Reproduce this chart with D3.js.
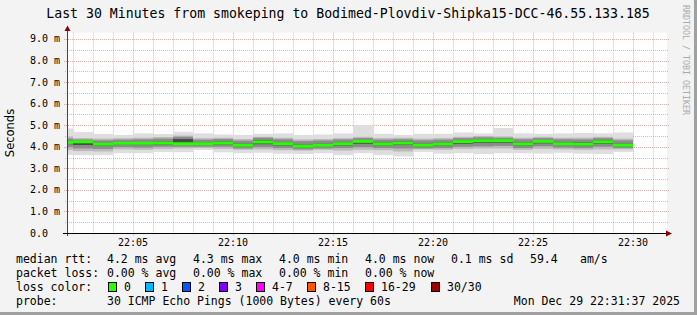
<!DOCTYPE html>
<html><head><meta charset="utf-8">
<script src="https://cdn.jsdelivr.net/npm/d3@7"></script>
<style>html,body{margin:0;padding:0;background:#f3f3f3;}svg{display:block;}</style>
</head><body>
<svg id="c" width="697" height="315"></svg>
<script>
// ---- data (values in ms) ----
const endMinutes = ["22:02","22:03","22:04","22:05","22:06","22:07","22:08","22:09","22:10","22:11",
  "22:12","22:13","22:14","22:15","22:16","22:17","22:18","22:19","22:20","22:21",
  "22:22","22:23","22:24","22:25","22:26","22:27","22:28","22:29","22:30"];
const median = [4.20,4.23,4.12,4.16,4.16,4.17,4.14,4.14,4.17,4.07,4.22,4.14,4.03,4.07,4.14,4.25,4.13,4.17,4.07,4.13,4.24,4.28,4.28,4.13,4.25,4.14,4.12,4.23,4.07];
const pMin   = [3.62,3.62,3.62,3.70,3.70,3.76,3.75,3.85,3.74,3.70,3.72,3.68,3.66,3.70,3.62,3.70,3.62,3.55,3.76,3.68,3.70,3.66,3.70,3.70,3.68,3.72,3.68,3.66,3.76];
const p15    = [3.85,3.80,3.78,3.88,3.86,3.90,3.92,3.94,3.90,3.86,3.88,3.84,3.82,3.86,3.82,3.86,3.84,3.78,3.88,3.86,3.90,3.92,3.92,3.86,3.90,3.88,3.86,3.88,3.88];
const p25    = [3.98,3.92,3.90,3.98,3.96,4.00,4.00,4.00,4.00,3.92,3.98,3.94,3.88,3.92,3.94,3.98,3.94,3.92,3.92,3.94,4.00,4.02,4.04,3.94,4.02,3.96,3.94,4.00,3.94];
const p35    = [4.12,4.08,4.04,4.09,4.08,4.10,4.10,4.08,4.10,4.01,4.12,4.06,3.98,4.02,4.06,4.14,4.06,4.08,4.00,4.06,4.14,4.18,4.18,4.06,4.16,4.08,4.05,4.14,4.01];
const p65    = [4.26,4.26,4.18,4.22,4.22,4.24,4.36,4.20,4.24,4.14,4.30,4.20,4.10,4.14,4.22,4.30,4.20,4.24,4.14,4.20,4.30,4.34,4.32,4.20,4.30,4.22,4.20,4.30,4.14];
const p75    = [4.38,4.34,4.30,4.33,4.35,4.38,4.46,4.33,4.36,4.28,4.42,4.35,4.26,4.29,4.34,4.40,4.33,4.35,4.30,4.33,4.40,4.44,4.42,4.35,4.40,4.35,4.34,4.40,4.30];
const p85    = [4.48,4.40,4.38,4.40,4.42,4.45,4.52,4.40,4.42,4.36,4.46,4.42,4.34,4.36,4.40,4.46,4.40,4.42,4.38,4.40,4.46,4.50,4.48,4.42,4.46,4.42,4.42,4.46,4.38];
const pMax   = [4.85,4.68,4.59,4.55,4.62,4.59,4.68,4.62,4.57,4.55,4.60,4.62,4.55,4.57,4.62,5.00,4.60,4.55,4.60,4.60,4.66,4.62,4.87,4.62,4.60,4.62,4.64,4.62,4.66];
const yTicks = [0,1,2,3,4,5,6,7,8,9];
const xTickLabels = ["22:05","22:10","22:15","22:20","22:25","22:30"];
const lossLabels = ["0","1","2","3","4-7","8-15","16-29","30/30"];
const lossColors = ["#26ff00","#00b8ff","#0059ff","#7e00ff","#ff00ff","#ff5500","#ff0000","#a10000"];
const title = "Last 30 Minutes from smokeping to Bodimed-Plovdiv-Shipka15-DCC-46.55.133.185";
const statsRtt = ["4.2 ms avg","4.3 ms max","4.0 ms min","4.0 ms now","0.1 ms sd","59.4","am/s"];
const statsLoss = ["0.00 % avg","0.00 % max","0.00 % min","0.00 % now"];
const probeText = "30 ICMP Echo Pings (1000 Bytes) every 60s";
const stamp = "Mon Dec 29 22:31:37 2025";

// ---- helpers ----
const toDate = s => { const [h,m] = s.split(":").map(Number); return new Date(Date.UTC(2025,11,29,h,m,0)); };
const svg = d3.select("#c");
const mono = "'DejaVu Sans Mono', monospace";
const L = 67, R = 667, T = 32.7, B = 233;
const x = d3.scaleUtc().domain([new Date(Date.UTC(2025,11,29,22,1,42)), new Date(Date.UTC(2025,11,29,22,31,42))]).range([L, R]);
const y = d3.scaleLinear().domain([0, 9.29]).range([B, T]);

// background + frame
svg.append("rect").attr("width",697).attr("height",315).attr("fill","#f3f3f3");
svg.append("rect").attr("x",694).attr("y",0).attr("width",3).attr("height",315).attr("fill","#a0a0a0");
svg.append("rect").attr("x",0).attr("y",312).attr("width",697).attr("height",3).attr("fill","#a0a0a0");
svg.append("rect").attr("x",L).attr("y",T).attr("width",R-L).attr("height",B-T).attr("fill","#ffffff");

// grid
const grid = svg.append("g");
const minorY = d3.range(0, 9.3, 0.5).filter(v => Math.abs(v - Math.round(v)) > 0.01);
grid.selectAll(".hm").data(minorY).join("line")
  .attr("x1",L-2).attr("x2",R+2).attr("y1",d=>Math.round(y(d))+0.5).attr("y2",d=>Math.round(y(d))+0.5)
  .attr("stroke","rgba(150,150,150,0.55)").attr("stroke-dasharray","1,1");
const minuteTicks = x.ticks(d3.utcMinute.every(1));
grid.selectAll(".vm").data(minuteTicks.filter(d=>d.getUTCMinutes()%5!==0)).join("line")
  .attr("y1",T).attr("y2",B+2).attr("x1",d=>Math.round(x(d))+0.5).attr("x2",d=>Math.round(x(d))+0.5)
  .attr("stroke","rgba(150,150,150,0.55)").attr("stroke-dasharray","1,1");
grid.selectAll(".hM").data(yTicks.filter(v=>v>0)).join("line")
  .attr("x1",L-3).attr("x2",R+2).attr("y1",d=>Math.round(y(d))+0.5).attr("y2",d=>Math.round(y(d))+0.5)
  .attr("stroke","rgba(220,90,90,0.5)").attr("stroke-dasharray","1,1");
const majorX = xTickLabels.map(toDate);
grid.selectAll(".vM").data(majorX).join("line")
  .attr("y1",T).attr("y2",B+3).attr("x1",d=>Math.round(x(d))+0.5).attr("x2",d=>Math.round(x(d))+0.5)
  .attr("stroke","rgba(220,90,90,0.5)").attr("stroke-dasharray","1,1");

// smoke + median
svg.append("clipPath").attr("id","pc").append("rect").attr("x",L).attr("y",T).attr("width",R-L).attr("height",B-T);
const plot = svg.append("g").attr("clip-path","url(#pc)");
const bars = endMinutes.map((m,i)=>({end:toDate(m), i}));
const bx0 = d => Math.round(x(new Date(d.end.getTime()-60000)));
const bx1 = d => Math.round(x(d.end));
const layers = [[pMin,pMax,"#dedede"],[p15,p85,"#bababa"],[p25,p75,"#8c8c8c"],[p35,p65,"#4a4a4a"]];
layers.forEach(([lo,hi,col])=>{
  plot.append("g").selectAll("rect").data(bars).join("rect")
    .attr("x",bx0).attr("width",d=>bx1(d)-bx0(d))
    .attr("y",d=>y(hi[d.i])).attr("height",d=>y(lo[d.i])-y(hi[d.i]))
    .attr("fill",col);
});
plot.append("g").selectAll("rect").data(bars).join("rect")
  .attr("x",bx0).attr("width",d=>bx1(d)-bx0(d))
  .attr("y",d=>y(median[d.i])-1.5).attr("height",3).attr("fill",lossColors[0]);

// axes
const axisColor = "#444";
svg.append("line").attr("x1",L+0.5).attr("x2",L+0.5).attr("y1",B+3).attr("y2",29).attr("stroke",axisColor);
svg.append("line").attr("x1",L-4).attr("x2",668).attr("y1",B+0.5).attr("y2",B+0.5).attr("stroke","#000");
svg.append("path").attr("d",`M${L-2.5},31 L${L+0.5},25.5 L${L+3.5},31 Z`).attr("fill","#8b0000");
svg.append("path").attr("d",`M666,${B-2.5} L672,${B+0.5} L666,${B+3.5} Z`).attr("fill","#8b0000");

// y tick labels
svg.append("g").selectAll("text").data(yTicks).join("text")
  .attr("x",30).attr("y",d=>y(d)+3.5)
  .attr("font-family",mono).attr("font-size","10px").attr("fill","#000")
  .text(d=> d===0 ? "0.0" : d3.format(".1f")(d)+" m");
// x tick labels
svg.append("g").selectAll("text").data(majorX).join("text")
  .attr("x",d=>x(d)).attr("y",246).attr("text-anchor","middle")
  .attr("font-family",mono).attr("font-size","10px").attr("fill","#000")
  .text(d=>d3.utcFormat("%H:%M")(d));

// title & labels
svg.append("text").attr("x",348).attr("y",18).attr("text-anchor","middle")
  .attr("font-family",mono).attr("font-size","13.2px").attr("fill","#000").text(title);
svg.append("text").attr("transform","translate(14,133) rotate(-90)").attr("text-anchor","middle")
  .attr("font-family","'DejaVu Sans', sans-serif").attr("font-size","11.5px").attr("fill","#000").text("Seconds");
svg.append("text").attr("transform","translate(683,5) rotate(90)")
  .attr("font-family",mono).attr("font-size","8.3px").attr("fill","#aaaaaa").text("RRDTOOL / TOBI OETIKER");

// legend
const lf = "11.5px";
const lt = (tx,xx,yy,anchor) => svg.append("text").attr("x",xx).attr("y",yy).attr("text-anchor",anchor||"start")
  .attr("font-family",mono).attr("font-size",lf).attr("fill","#000").attr("xml:space","preserve").text(tx);
lt("median rtt:",16,263);
[107,193,279,365,451,530,580].forEach((xx,k)=>lt(statsRtt[k],xx,263));
lt("packet loss:",16,277);
[107,193,279,365].forEach((xx,k)=>lt(statsLoss[k],xx,277));
lt("loss color:",16,291);
const boxX = [108,145,182,219,256,307,365,431];
lossLabels.forEach((lab,k)=>{
  svg.append("rect").attr("x",boxX[k]+0.5).attr("y",282.5).attr("width",8).attr("height",9)
    .attr("fill",lossColors[k]).attr("stroke","#000").attr("stroke-width",1);
  lt(lab,boxX[k]+16,291);
});
lt("probe:",16,305);
lt(probeText,107,305);
lt(stamp,680,305,"end");
</script>
</body></html>
